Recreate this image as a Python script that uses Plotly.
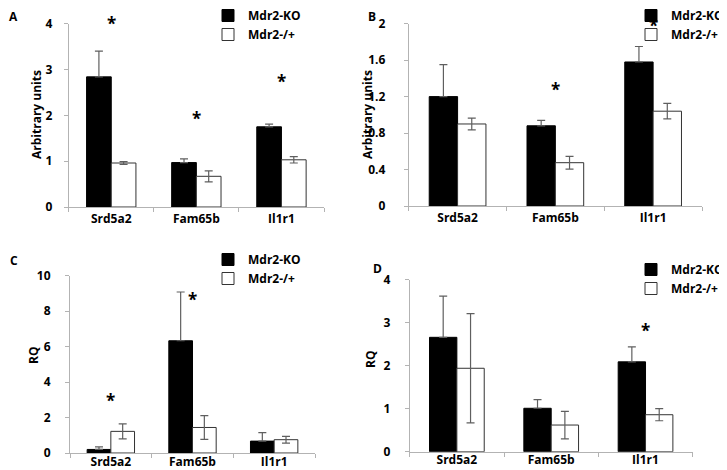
import plotly.graph_objects as go

W, H = 727, 470

genes = ["Srd5a2", "Fam65b", "Il1r1"]
series_names = ["Mdr2-KO", "Mdr2-/+"]

# Panel A (Arbitrary units)
a_ko = [2.84, 0.97, 1.75]
a_ko_err = [0.56, 0.08, 0.06]
a_het = [0.96, 0.67, 1.03]
a_het_err = [0.03, 0.12, 0.07]
a_star = [3.9, 1.83, 2.63]

# Panel B (Arbitrary units)
b_ko = [1.20, 0.88, 1.58]
b_ko_err = [0.35, 0.06, 0.17]
b_het = [0.90, 0.475, 1.04]
b_het_err = [0.065, 0.07, 0.085]
b_star = [None, 1.22, 1.93]

# Panel C (RQ)
c_ko = [0.20, 6.33, 0.67]
c_ko_err = [0.14, 2.75, 0.48]
c_het = [1.22, 1.44, 0.75]
c_het_err = [0.42, 0.67, 0.19]
c_star = [2.7, 8.35, None]

# Panel D (RQ)
d_ko = [2.66, 1.01, 2.09]
d_ko_err = [0.96, 0.20, 0.35]
d_het = [1.94, 0.62, 0.86]
d_het_err = [1.27, 0.32, 0.14]
d_star = [None, None, 2.71]

FONT = "Open Sans"
WEIGHT = 700
AXIS_GREY = "#b3b3b3"
ERR_GREY = "#5f5f5f"

panels = [
    dict(letter="A", ko=a_ko, koe=a_ko_err, het=a_het, hete=a_het_err, star=a_star,
         ymax=4, dtick=1, title="Arbitrary units",
         px=(60.7, 316), py=(15.7, 199), ystand=9, xstand=1,
         leg=(200, -7), let=(6, 9), ttl=(28, 107)),
    dict(letter="B", ko=b_ko, koe=b_ko_err, het=b_het, hete=b_het_err, star=b_star,
         ymax=2, dtick=0.4, title="Arbitrary units",
         px=(400.7, 694), py=(15.7, 198), ystand=16, xstand=1,
         leg=(623, -7), let=(364, 9), ttl=(359, 107)),
    dict(letter="C", ko=c_ko, koe=c_ko_err, het=c_het, hete=c_het_err, star=c_star,
         ymax=10, dtick=2, title="RQ",
         px=(62, 307), py=(267.7, 445), ystand=12, xstand=-2,
         leg=(200, 237), let=(6, 252), ttl=(25, 348)),
    dict(letter="D", ko=d_ko, koe=d_ko_err, het=d_het, hete=d_het_err, star=d_star,
         ymax=4, dtick=1, title="RQ",
         px=(401.7, 684.7), py=(271.7, 443.7), ystand=12, xstand=-3,
         leg=(623, 247), let=(369, 260), ttl=(362, 352)),
]

fig = go.Figure()
layout = dict(
    width=W, height=H,
    margin=dict(l=0, r=0, t=0, b=0, autoexpand=False),
    paper_bgcolor="white", plot_bgcolor="white",
    barmode="group", bargap=0.42, bargroupgap=0,
    font=dict(family=FONT, size=12, color="black", weight=WEIGHT),
    showlegend=True,
)
annotations = []

for i, p in enumerate(panels):
    n = "" if i == 0 else str(i + 1)
    xa, ya = "x" + n, "y" + n
    legname = "legend" + n
    fig.add_trace(go.Bar(
        x=genes, y=p["ko"], name=series_names[0], xaxis=xa, yaxis=ya,
        marker=dict(color="black", line=dict(color="black", width=1)),
        error_y=dict(type="data", array=p["koe"], arrayminus=[0] * len(genes),
                     symmetric=False, color=ERR_GREY, thickness=1.2, width=4),
        legend=legname,
    ))
    fig.add_trace(go.Bar(
        x=genes, y=p["het"], name=series_names[1], xaxis=xa, yaxis=ya,
        marker=dict(color="white", line=dict(color="#333333", width=1)),
        error_y=dict(type="data", array=p["hete"], color=ERR_GREY, thickness=1.2, width=4),
        legend=legname,
    ))
    x0, x1 = p["px"]
    y0, y1 = p["py"]
    layout["xaxis" + n] = dict(
        domain=[x0 / W, x1 / W], anchor=ya, type="category",
        showline=True, linecolor=AXIS_GREY, linewidth=1,
        ticks="outside", tickson="boundaries", ticklen=4, tickcolor=AXIS_GREY,
        showgrid=False, zeroline=False, ticklabelstandoff=p["xstand"],
        tickfont=dict(family=FONT, size=12, color="black", weight=WEIGHT),
        fixedrange=True,
    )
    layout["yaxis" + n] = dict(
        domain=[1 - y1 / H, 1 - y0 / H], anchor=xa,
        range=[0, p["ymax"]], dtick=p["dtick"], tick0=0,
        showline=True, linecolor=AXIS_GREY, linewidth=1,
        ticks="outside", ticklen=4, tickcolor=AXIS_GREY,
        showgrid=False, zeroline=False, ticklabelstandoff=p["ystand"],
        tickfont=dict(family=FONT, size=12, color="black", weight=WEIGHT),
        fixedrange=True,
    )
    lx, ly = p["leg"]
    layout[legname] = dict(
        x=lx / W, y=1 - ly / H, xanchor="left", yanchor="top",
        bgcolor="rgba(0,0,0,0)", borderwidth=0, tracegroupgap=0,
        font=dict(family=FONT, size=12, color="black", weight=WEIGHT),
    )
    # significance stars
    for g, s in zip(genes, p["star"]):
        if s is not None:
            annotations.append(dict(
                x=g, y=s, xref=xa, yref=ya, text="*", showarrow=False,
                yanchor="middle", xanchor="center", yshift=5,
                font=dict(family=FONT, size=17, color="black", weight=WEIGHT),
            ))
    # panel letter
    lx2, ly2 = p["let"]
    annotations.append(dict(
        x=lx2 / W, y=1 - ly2 / H, xref="paper", yref="paper", text=p["letter"],
        showarrow=False, xanchor="center", yanchor="middle",
        font=dict(family=FONT, size=12, color="black", weight=WEIGHT),
    ))
    # y title
    tx, ty = p["ttl"]
    annotations.append(dict(
        x=tx / W, y=1 - ty / H, xref="paper", yref="paper", text=p["title"],
        showarrow=False, xanchor="center", yanchor="middle", textangle=-90,
        font=dict(family=FONT, size=12, color="black", weight=WEIGHT),
    ))

layout["annotations"] = annotations
fig.update_layout(**layout)
fig.write_html("out.html")
